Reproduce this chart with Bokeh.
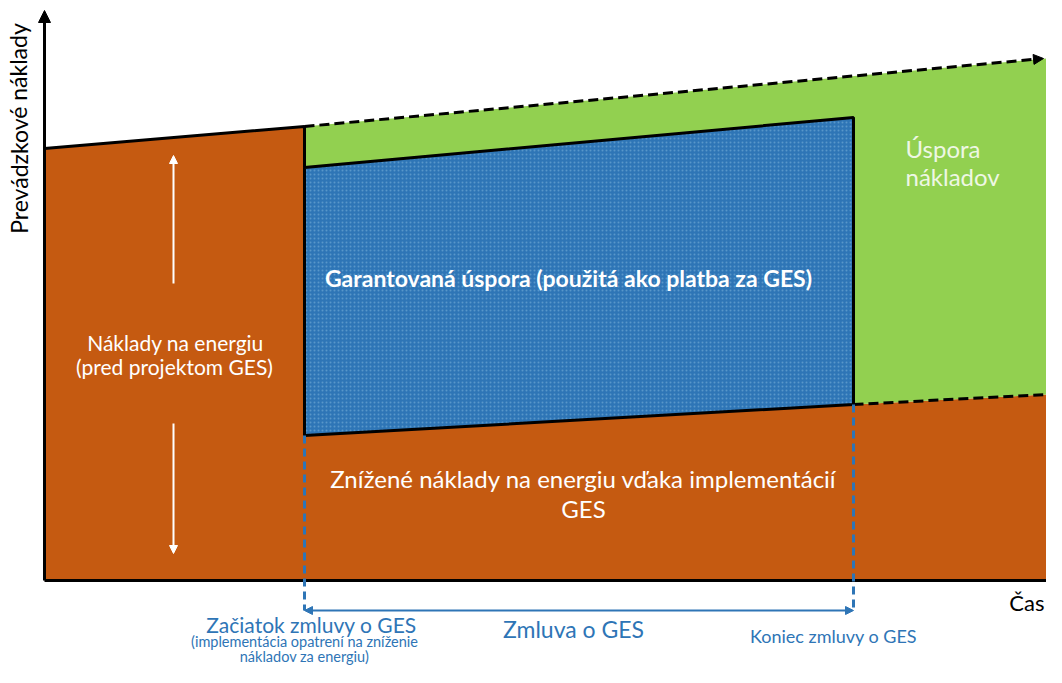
from bokeh.plotting import figure
from bokeh.models import Range1d, Arrow, NormalHead
from bokeh.core.properties import value
from bokeh.embed import file_html
from bokeh.resources import INLINE

# ---- data (time positions and cost levels, diagram units) ----
time_pts = [44, 304, 853, 1046]          # start, contract start, contract end, end of time axis
baseline_cost = [432, 454, 504, 522]     # cost without project (baseline)
guaranteed_top = [413, 463]              # top of guaranteed savings at contract start / end
reduced_cost = [145, 176, 186]           # reduced energy costs at contract start / end / end of axis
axis_top = 570                           # top of the cost axis
contract_arrow_level = -30               # level of the contract span arrow

FONT = value("Lato")
ORANGE = "#C55A11"
GREEN = "#92D050"
BLUE = "#2E75B6"
TEXT_BLUE = "#2E75B6"

t0, tcs, tce, t_end = time_pts

p = figure(width=1046, height=667, x_range=Range1d(0, 1046), y_range=Range1d(-87, 580),
           output_backend="svg", toolbar_location=None,
           x_axis_location=None, y_axis_location=None,
           min_border=0, outline_line_color=None, background_fill_color="white")
p.xgrid.visible = False
p.ygrid.visible = False

# orange: energy costs (baseline before project, reduced afterwards)
p.patch([t0, t0, tcs, tcs, tce, t_end, t_end],
        [0, baseline_cost[0], baseline_cost[1], reduced_cost[0], reduced_cost[1], reduced_cost[2], 0],
        fill_color=ORANGE, line_color=None)

# green: savings
p.patch([tcs, t_end, t_end, tce, tce, tcs],
        [baseline_cost[1], baseline_cost[3], reduced_cost[2], reduced_cost[1], guaranteed_top[1], guaranteed_top[0]],
        fill_color=GREEN, line_color=None)

# blue: guaranteed savings
p.patch([tcs, tce, tce, tcs],
        [guaranteed_top[0], guaranteed_top[1], reduced_cost[1], reduced_cost[0]],
        fill_color=BLUE, line_color="black", line_width=3,
        hatch_pattern="dot", hatch_color="#a9d4ef", hatch_scale=4, hatch_alpha=0.35)

# black solid baseline before contract + vertical at contract start
p.line([t0, tcs, tcs], [baseline_cost[0], baseline_cost[1], guaranteed_top[0]], line_color="black", line_width=3)

# dashed baseline continuation with arrowhead
p.add_layout(Arrow(end=NormalHead(size=10, fill_color="black", line_color="black"),
                   x_start=tcs, y_start=baseline_cost[1], x_end=t_end - 3, y_end=baseline_cost[3],
                   line_color="black", line_width=3, line_dash="10 5"))
# dashed reduced-cost continuation
p.line([tce, t_end], [reduced_cost[1], reduced_cost[2]], line_color="black", line_width=3, line_dash="10 5")

# axes
p.line([t0, t_end], [0, 0], line_color="black", line_width=3)
p.add_layout(Arrow(end=NormalHead(size=12, fill_color="black", line_color="black"),
                   x_start=t0, y_start=0, x_end=t0, y_end=axis_top,
                   line_color="black", line_width=3))

# blue dashed contract markers
p.line([tcs, tcs], [reduced_cost[0], contract_arrow_level], line_color=BLUE, line_width=3, line_dash="8 5")
p.line([tce, tce], [reduced_cost[1], contract_arrow_level], line_color=BLUE, line_width=3, line_dash="8 5")
p.add_layout(Arrow(start=NormalHead(size=8, fill_color=BLUE, line_color=BLUE),
                   end=NormalHead(size=8, fill_color=BLUE, line_color=BLUE),
                   x_start=tcs, y_start=contract_arrow_level, x_end=tce, y_end=contract_arrow_level,
                   line_color=BLUE, line_width=2))

# white arrows in the orange area
arrow_x = (t0 + tcs) / 2 - 1
p.add_layout(Arrow(end=NormalHead(size=8, fill_color="white", line_color="white"),
                   x_start=arrow_x, y_start=297, x_end=arrow_x, y_end=425,
                   line_color="white", line_width=2))
p.add_layout(Arrow(end=NormalHead(size=8, fill_color="white", line_color="white"),
                   x_start=arrow_x, y_start=157, x_end=arrow_x, y_end=27,
                   line_color="white", line_width=2))

def txt(x, y, s, size, color, align="center", style="normal", angle=0):
    p.text(x=[x], y=[y], text=[s], text_font=FONT, text_font_size=size, text_color=color,
           text_align=align, text_baseline="middle", text_font_style=style, angle=angle)

txt(18, 452, "Prevádzkové náklady", "23px", "black", angle=1.5708)
txt(1044, -22, "Čas", "22px", "black", align="right")
txt(175, 238, "Náklady na energiu", "21px", "white")
txt(174, 214, "(pred projektom GES)", "21px", "white")
txt(568, 303, "Garantovaná úspora (použitá ako platba za GES)", "23px", "white", style="bold")
txt(905, 432, "Úspora", "24px", "#eef7e4", align="left")
txt(905, 404, "nákladov", "24px", "#eef7e4", align="left")
txt(583, 102, "Znížené náklady na energiu vďaka implementácií", "24px", "white")
txt(583, 72, "GES", "24px", "white")
txt(573, -48, "Zmluva o GES", "23px", TEXT_BLUE)
txt(311, -44, "Začiatok zmluvy o GES", "21px", TEXT_BLUE)
txt(304, -61, "(implementácia opatrení na zníženie", "14.5px", TEXT_BLUE)
txt(304, -76, "nákladov za energiu)", "14.5px", TEXT_BLUE)
txt(833, -55, "Koniec zmluvy o GES", "18px", TEXT_BLUE)

open("out.html", "w").write(file_html(p, INLINE))
